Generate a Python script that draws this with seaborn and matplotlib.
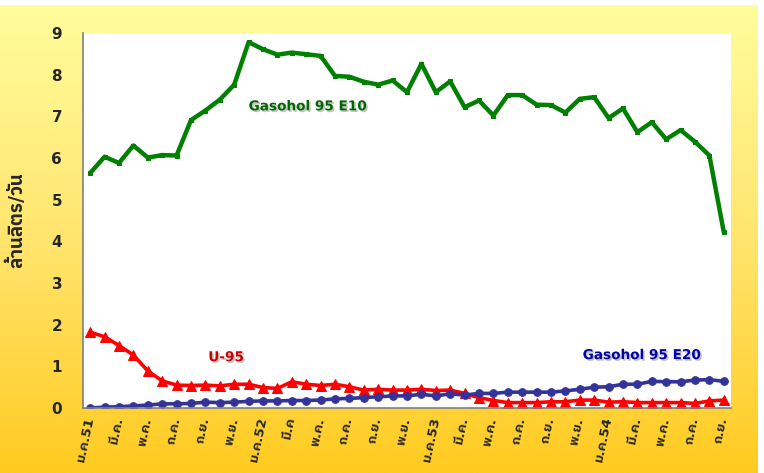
import numpy as np
import pandas as pd
import matplotlib
matplotlib.use('Agg')
import matplotlib.pyplot as plt
import matplotlib.patheffects as pe
from matplotlib import font_manager as fm
from matplotlib.colors import LinearSegmentedColormap
import seaborn as sns


# monthly data, ม.ค.51 - ก.ย.54 (million litres / day)
months = ['ม.ค.51', 'ก.พ.', 'มี.ค.', 'เม.ย.', 'พ.ค.', 'มิ.ย.', 'ก.ค.', 'ส.ค.', 'ก.ย.', 'ต.ค.', 'พ.ย.', 'ธ.ค.',
          'ม.ค.52', 'ก.พ.', 'มี.ค', 'เม.ย.', 'พ.ค.', 'มิ.ย.', 'ก.ค.', 'ส.ค.', 'ก.ย.', 'ต.ค.', 'พ.ย.', 'ธ.ค.',
          'ม.ค.53', 'ก.พ.', 'มี.ค.', 'เม.ย.', 'พ.ค.', 'มิ.ย.', 'ก.ค.', 'ส.ค.', 'ก.ย.', 'ต.ค.', 'พ.ย.', 'ธ.ค.',
          'ม.ค.54', 'ก.พ.', 'มี.ค.', 'เม.ย.', 'พ.ค.', 'มิ.ย.', 'ก.ค.', 'ส.ค.', 'ก.ย.']

e10 = [5.64, 6.03, 5.88, 6.30, 6.01, 6.07, 6.06, 6.91, 7.14, 7.40, 7.76, 8.78,
       8.61, 8.48, 8.53, 8.49, 8.45, 7.97, 7.95, 7.83, 7.76, 7.86, 7.58, 8.26,
       7.58, 7.84, 7.22, 7.38, 7.02, 7.51, 7.51, 7.28, 7.27, 7.09, 7.42, 7.46,
       6.96, 7.19, 6.62, 6.86, 6.45, 6.67, 6.39, 6.06, 4.22]

u95 = [1.82, 1.71, 1.50, 1.27, 0.89, 0.65, 0.55, 0.54, 0.55, 0.53, 0.57, 0.57,
       0.49, 0.47, 0.63, 0.57, 0.54, 0.57, 0.51, 0.43, 0.45, 0.43, 0.43, 0.45,
       0.42, 0.43, 0.35, 0.25, 0.18, 0.13, 0.13, 0.13, 0.15, 0.15, 0.19, 0.19,
       0.14, 0.15, 0.13, 0.13, 0.13, 0.13, 0.11, 0.17, 0.19]

e20 = [0.00, 0.02, 0.03, 0.05, 0.07, 0.10, 0.10, 0.11, 0.14, 0.13, 0.14, 0.16,
       0.17, 0.17, 0.18, 0.18, 0.19, 0.22, 0.23, 0.25, 0.27, 0.29, 0.29, 0.33,
       0.29, 0.34, 0.31, 0.35, 0.35, 0.38, 0.38, 0.38, 0.38, 0.41, 0.45, 0.50,
       0.51, 0.57, 0.57, 0.64, 0.63, 0.63, 0.67, 0.68, 0.64]

df = pd.DataFrame({'idx': np.arange(len(months)), 'E10': e10, 'U95': u95, 'E20': e20})

sns.set_style('white')
# find a font that has Thai glyphs to fall back on
thai_fonts = [f.name for f in fm.fontManager.ttflist
              if 'Thai' in f.name or f.name in ('Loma', 'Garuda', 'Waree', 'Norasi', 'Kinnari', 'Tlwg Typo', 'Umpush')]
families = ['DejaVu Sans'] + sorted(set(thai_fonts))[:1]
plt.rcParams['font.family'] = families

fig = plt.figure(figsize=(7.64, 4.73), dpi=100)
fig.patch.set_facecolor('white')

# yellow gradient panel behind the chart
bg = fig.add_axes([0, 0, 758 / 764, 468 / 473])
cmap = LinearSegmentedColormap.from_list('bg', ['#FFFD9C', '#FFE56E', '#FFCB20'])
bg.imshow(np.linspace(0, 1, 256).reshape(-1, 1), aspect='auto', cmap=cmap, extent=[0, 1, 0, 1])
bg.axis('off')

ax = fig.add_axes([83 / 764, 65 / 473, 648 / 764, 375 / 473])
ax.set_facecolor('white')

sns.lineplot(data=df, x='idx', y='E10', color='#008000', lw=3.2, marker='s', markersize=3.5,
             markeredgecolor='#008000', ax=ax)
sns.lineplot(data=df, x='idx', y='U95', color='#FF0000', lw=2.6, marker='^', markersize=6.5,
             markeredgecolor='#FF0000', ax=ax)
sns.lineplot(data=df, x='idx', y='E20', color='#333399', lw=2.6, marker='o', markersize=5.5,
             markeredgecolor='#333399', ax=ax)

ax.set_xlim(-0.5, len(months) - 0.5)
ax.set_ylim(0, 9)
ax.set_yticks(range(0, 10))
ax.set_yticklabels([str(v) for v in range(0, 10)], fontsize=11, fontweight='bold')

ax.set_xticks(range(0, len(months), 2))
ax.set_xticklabels(months[::2], fontsize=9.5, fontweight='bold', rotation=78,
                   ha='right', va='center', rotation_mode='anchor')
ax.set_xticks(np.arange(-0.5, len(months), 1), minor=True)
ax.tick_params(axis='x', which='major', length=0, pad=7)
ax.tick_params(axis='x', which='minor', length=5, width=1, color='#404040', direction='out')
ax.tick_params(axis='y', length=5, width=1, color='#606060', direction='out', pad=10)

for s in ['top', 'right']:
    ax.spines[s].set_visible(False)
for s in ['left', 'bottom']:
    ax.spines[s].set_color('#808080')
    ax.spines[s].set_linewidth(1.2)

ax.set_xlabel('')
ax.set_ylabel('ล้านลิตร/วัน', fontsize=13.5, fontweight='bold')
ax.yaxis.set_label_coords(-0.088, 0.5)

shadow = [pe.SimplePatchShadow(offset=(1.2, -1.2), shadow_rgbFace='#888888', alpha=0.5), pe.Normal()]
ax.text(11.0, 7.24, 'Gasohol 95 E10', color='#006600', fontsize=9.8, fontweight='bold',
        ha='left', va='center', path_effects=shadow)
ax.text(8.2, 1.22, 'U-95', color='#CC0000', fontsize=9.8, fontweight='bold',
        ha='left', va='center', path_effects=shadow)
ax.text(34.2, 1.27, 'Gasohol 95 E20', color='#0000AA', fontsize=9.8, fontweight='bold',
        ha='left', va='center', path_effects=shadow)

fig.savefig('out.png', dpi=100)
